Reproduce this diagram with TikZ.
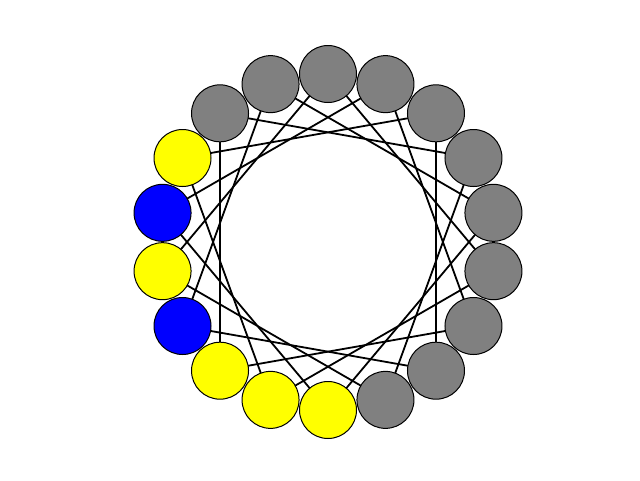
\documentclass[tikz,border=0pt]{standalone}
\usetikzlibrary{backgrounds}
\definecolor{ngray}{RGB}{128,128,128}
\definecolor{nyellow}{RGB}{255,255,0}
\definecolor{nblue}{RGB}{0,0,255}
\begin{document}
\begin{tikzpicture}[x=1pt,y=-1pt,
  vert/.style={circle,draw=black,line width=1pt,minimum size=57pt,inner sep=0pt},
  edge/.style={line width=1.8pt,black}]
\useasboundingbox (0,0) rectangle (640,480);
\foreach \i/\c in {0/ngray,1/ngray,2/ngray,3/ngray,4/ngray,5/ngray,6/ngray,7/ngray,8/ngray,9/nyellow,10/nyellow,11/nyellow,12/nblue,13/nyellow,14/nblue,15/nyellow,16/ngray,17/ngray}
  \node[vert,fill=\c] (n\i) at ({328+168*sin(20*\i)},{242-168*cos(20*\i)}) {};
\begin{scope}[on background layer]
\foreach \i in {0,...,17}{
  \pgfmathtruncatemacro{\j}{mod(\i+5,18)}
  \draw[edge] (n\i.center) -- (n\j.center);
}
\end{scope}
\end{tikzpicture}
\end{document}
